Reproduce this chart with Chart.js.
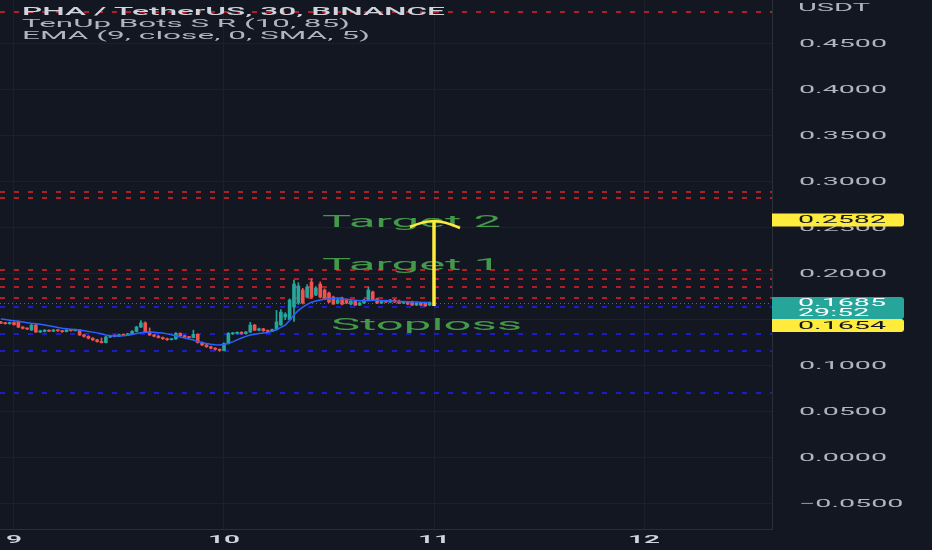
<!DOCTYPE html>
<html>
<head>
<meta charset="utf-8">
<script src="https://cdn.jsdelivr.net/npm/chart.js@4.4.1/dist/chart.umd.min.js"></script>
<style>
  html, body { margin: 0; padding: 0; background: #131722; }
  #wrap { width: 932px; height: 550px; }
</style>
</head>
<body>
<div id="wrap"><canvas id="chart" width="932" height="550"></canvas></div>
<script>
// 30 minute candles, the first one three candles before day 9 00:00
const firstCandle = 9 - 3 / 48;
const candleStep = 1 / 48;

const opens = [
  .1470, .1462, .1456, .1468, .1476, .1419, .1405, .1387, .1441, .1365,
  .1372, .1385, .1374, .1387, .1378, .1370, .1386, .1380, .1388, .1333,
  .1318, .1298, .1280, .1262, .1250, .1311, .1325, .1318, .1336, .1330,
  .1345, .1372, .1420, .1465, .1368, .1333, .1320, .1305, .1292, .1282,
  .1290, .1352, .1325, .1312, .1305, .1340, .1250, .1225, .1205, .1190,
  .1178, .1165, .1240, .1345, .1350, .1362, .1348, .1365, .1441, .1385,
  .1400, .1380, .1372, .1392, .1441, .1528, .1500, .1637, .1680, .1821,
  .1745, .1908, .1767, .1886, .1821, .1789, .1745, .1680, .1734, .1713,
  .1669, .1702, .1658, .1680, .1713, .1800, .1724, .1680, .1702, .1691,
  .1713, .1702, .1680, .1691, .1691, .1658, .1680, .1680, .1658
];
const highs = [
  .1482, .1470, .1474, .1476, .1486, .1425, .1412, .1448, .1452, .1385,
  .1392, .1390, .1394, .1392, .1384, .1398, .1392, .1396, .1392, .1340,
  .1325, .1305, .1286, .1300, .1318, .1332, .1336, .1342, .1345, .1352,
  .1380, .1428, .1490, .1476, .1410, .1340, .1328, .1312, .1300, .1296,
  .1360, .1356, .1330, .1318, .1385, .1345, .1258, .1232, .1212, .1196,
  .1182, .1248, .1360, .1362, .1368, .1370, .1372, .1470, .1448, .1408,
  .1405, .1388, .1398, .1600, .1610, .1575, .1725, .1930, .1900, .1840,
  .1880, .1941, .1860, .1910, .1835, .1800, .1755, .1720, .1745, .1725,
  .1712, .1710, .1690, .1722, .1854, .1810, .1735, .1710, .1712, .1720,
  .1720, .1712, .1698, .1700, .1700, .1690, .1688, .1690, .1692
];
const lows = [
  .1455, .1450, .1450, .1440, .1412, .1398, .1392, .1382, .1360, .1358,
  .1366, .1368, .1370, .1372, .1362, .1366, .1375, .1376, .1328, .1310,
  .1290, .1272, .1255, .1245, .1246, .1305, .1312, .1314, .1325, .1326,
  .1340, .1366, .1412, .1360, .1328, .1312, .1300, .1285, .1275, .1278,
  .1285, .1320, .1305, .1300, .1300, .1245, .1218, .1198, .1182, .1168,
  .1155, .1160, .1235, .1338, .1342, .1340, .1342, .1360, .1380, .1378,
  .1372, .1366, .1368, .1388, .1436, .1500, .1495, .1480, .1665, .1670,
  .1735, .1730, .1760, .1735, .1725, .1685, .1665, .1672, .1660, .1672,
  .1660, .1652, .1652, .1675, .1705, .1705, .1672, .1675, .1685, .1685,
  .1685, .1672, .1675, .1662, .1652, .1652, .1652, .1645, .1652
];
const closes = [
  .1462, .1456, .1468, .1445, .1419, .1405, .1398, .1441, .1365, .1378,
  .1385, .1374, .1387, .1378, .1370, .1386, .1380, .1390, .1333, .1318,
  .1298, .1280, .1262, .1250, .1311, .1325, .1318, .1336, .1330, .1345,
  .1372, .1420, .1465, .1368, .1333, .1320, .1305, .1292, .1282, .1290,
  .1352, .1325, .1312, .1305, .1340, .1250, .1225, .1205, .1190, .1178,
  .1165, .1240, .1350, .1356, .1362, .1348, .1365, .1441, .1385, .1400,
  .1380, .1372, .1392, .1475, .1582, .1560, .1713, .1886, .1865, .1680,
  .1854, .1745, .1843, .1745, .1734, .1691, .1669, .1713, .1669, .1680,
  .1702, .1658, .1680, .1713, .1821, .1713, .1680, .1702, .1691, .1713,
  .1691, .1680, .1691, .1669, .1658, .1680, .1658, .1648, .1685
];
// EMA (9, close, 0, SMA, 5)
const emaValues = [
  .1506, .1500, .1494, .1488, .1481, .1474, .1467, .1460, .1455, .1450,
  .1442, .1434, .1426, .1415, .1405, .1400, .1396, .1392, .1387, .1380,
  .1372, .1364, .1356, .1346, .1334, .1324, .1322, .1322, .1325, .1330,
  .1338, .1348, .1358, .1364, .1365, .1362, .1358, .1354, .1345, .1335,
  .1322, .1311, .1300, .1290, .1278, .1262, .1250, .1240, .1232, .1226,
  .1224, .1230, .1242, .1258, .1280, .1300, .1318, .1333, .1342, .1348,
  .1354, .1360, .1372, .1390, .1415, .1440, .1490, .1550, .1600, .1635,
  .1665, .1688, .1702, .1712, .1720, .1724, .1728, .1728, .1725, .1720,
  .1715, .1710, .1706, .1704, .1706, .1710, .1710, .1708, .1706, .1704,
  .1700, .1698, .1696, .1694, .1692, .1690, .1688, .1687, .1686
];

const dayTicks = [9, 10, 11, 12];
const priceTicks = [-0.05, 0, 0.05, 0.10, 0.15, 0.20, 0.25, 0.30, 0.35, 0.40, 0.45];
const priceLabels = ["\u22120.0500", "0.0000", "0.0500", "0.1000", "", "0.2000", "0.2500", "0.3000", "0.3500", "0.4000", "0.4500"];

// TenUp Bots S R levels
const resistanceLevels = [0.4841, 0.2886, 0.2825, 0.2038, 0.1941, 0.1854, 0.1734];
const supportLevels = [0.1637, 0.1344, 0.1159, 0.0703];

const lastPrice = 0.1685;
const countdown = "29:52";
const stopPrice = 0.1654;
const targetPrice = 0.2582;

const noteTexts = ["Target 2", "Target 1", "Stoploss"];
const noteDays = [10.467, 10.467, 10.51];
const notePrices = [0.2557, 0.2080, 0.1430];

const arrowDay = 11.0;
const arrowFrom = 0.1648;
const arrowTo = 0.2571;

const titleLines = ["PHA / TetherUS, 30, BINANCE", "TenUp Bots S R (10, 85)", "EMA (9, close, 0, SMA, 5)"];

// Colors
const UP = "#26a69a";
const DOWN = "#ef5350";
const GRID = "#1c202b";
const FONT = "Roboto, 'Noto Sans', sans-serif";

const candleDays = opens.map((_, i) => firstCandle + i * candleStep);
const candleColors = opens.map((o, i) => (closes[i] >= o ? UP : DOWN));

// text stretched sideways to a given width, like the screenshot
function wideText(ctx, text, x, y, sx, align) {
  ctx.save();
  ctx.translate(x, y);
  ctx.scale(sx, 1);
  ctx.textAlign = align || "left";
  ctx.textBaseline = "middle";
  ctx.fillText(text, 0, 0);
  ctx.restore();
}
function fitFactor(ctx, font, sample, width) {
  ctx.font = font;
  return width / ctx.measureText(sample).width;
}

const overlay = {
  id: "overlay",
  beforeDatasetsDraw(chart) {
    const { ctx, chartArea: a, scales: { x, y } } = chart;
    ctx.save();
    ctx.beginPath();
    ctx.rect(a.left, a.top, a.right - a.left, a.bottom - a.top);
    ctx.clip();

    ctx.lineWidth = 2;
    ctx.setLineDash([5, 9]);
    const levelLine = (v, color) => {
      const py = Math.round(y.getPixelForValue(v));
      ctx.strokeStyle = color;
      ctx.beginPath();
      ctx.moveTo(a.left, py);
      ctx.lineTo(a.right, py);
      ctx.stroke();
    };
    resistanceLevels.forEach((v) => levelLine(v, "rgba(215,35,40,0.8)"));
    supportLevels.forEach((v) => levelLine(v, "rgba(30,30,215,0.9)"));

    // last price line
    ctx.lineWidth = 1;
    ctx.setLineDash([1, 3]);
    ctx.strokeStyle = "rgba(120,123,134,0.8)";
    const lp = Math.round(y.getPixelForValue(lastPrice)) + 0.5;
    ctx.beginPath();
    ctx.moveTo(a.left, lp);
    ctx.lineTo(a.right, lp);
    ctx.stroke();
    ctx.restore();
  },
  afterDatasetsDraw(chart) {
    const { ctx, scales: { x, y } } = chart;

    // green notes
    const noteFont = "17px " + FONT;
    const nsx = fitFactor(ctx, noteFont, "Target 2", 179);
    ctx.fillStyle = "rgba(76,175,80,0.85)";
    noteTexts.forEach((t, i) => {
      wideText(ctx, t, x.getPixelForValue(noteDays[i]), y.getPixelForValue(notePrices[i]), nsx);
    });

    // yellow arrow
    const ax = x.getPixelForValue(arrowDay);
    const y0 = y.getPixelForValue(arrowFrom);
    const y1 = y.getPixelForValue(arrowTo);
    ctx.save();
    ctx.strokeStyle = "#ffeb3b";
    ctx.lineWidth = 3.5;
    ctx.beginPath();
    ctx.moveTo(ax, y0);
    ctx.lineTo(ax, y1 + 1);
    ctx.stroke();
    ctx.lineWidth = 2.5;
    ctx.beginPath();
    ctx.moveTo(ax - 24, y1 + 6);
    ctx.quadraticCurveTo(ax - 10, y1, ax, y1);
    ctx.quadraticCurveTo(ax + 10, y1, ax + 26, y1 + 7);
    ctx.stroke();
    ctx.restore();
  },
  afterDraw(chart) {
    const { ctx, chartArea: a, scales: { x, y } } = chart;
    ctx.save();

    // price axis labels
    const axisFont = "11px " + FONT;
    const asx = fitFactor(ctx, axisFont, "0.4500", 88);
    ctx.fillStyle = "#b2b5be";
    priceTicks.forEach((v, i) => {
      if (priceLabels[i]) wideText(ctx, priceLabels[i], a.right + 27, y.getPixelForValue(v) + 0.5, asx);
    });
    const unitFont = "10px " + FONT;
    wideText(ctx, "USDT", a.right + 26, 8.5, fitFactor(ctx, unitFont, "USDT", 72));

    // time axis labels
    const dayFont = "600 11px " + FONT;
    const dsx = fitFactor(ctx, dayFont, "10", 32);
    ctx.fillStyle = "#d1d4dc";
    dayTicks.forEach((d) => wideText(ctx, String(d), x.getPixelForValue(d), 540.5, dsx, "center"));

    // price tags
    ctx.font = axisFont;
    const tagX = a.right;
    const tagW = 132;
    const tag = (top, h, color) => {
      ctx.fillStyle = color;
      ctx.beginPath();
      ctx.roundRect(tagX, top, tagW, h, [0, 3, 3, 0]);
      ctx.fill();
    };
    const ty = y.getPixelForValue(targetPrice);
    tag(ty - 6.5, 13, "#ffeb3b");
    ctx.fillStyle = "#131722";
    wideText(ctx, "0.2582", a.right + 26, ty + 0.5, asx);

    const ly = y.getPixelForValue(lastPrice);
    const tealTop = ly - 5.5;
    tag(tealTop, 22, UP);
    ctx.fillStyle = "#ffffff";
    wideText(ctx, "0.1685", a.right + 26, ly + 1, asx);
    wideText(ctx, countdown, a.right + 26, ly + 11, asx);

    const sTop = Math.max(y.getPixelForValue(stopPrice) - 6.5, tealTop + 22);
    tag(sTop, 13, "#ffeb3b");
    ctx.fillStyle = "#131722";
    wideText(ctx, "0.1654", a.right + 26, sTop + 7, asx);

    // legend lines
    const t1 = "500 10px " + FONT;
    const t2 = "10px " + FONT;
    ctx.fillStyle = "#d1d4dc";
    wideText(ctx, titleLines[0], 22, 12.5, fitFactor(ctx, t1, titleLines[0], 423));
    ctx.fillStyle = "#b2b5be";
    wideText(ctx, titleLines[1], 22, 24.5, fitFactor(ctx, t2, titleLines[1], 328));
    wideText(ctx, titleLines[2], 22, 36.5, fitFactor(ctx, t2, titleLines[2], 348));
    ctx.restore();
  }
};

const background = {
  id: "background",
  beforeDraw(chart) {
    const ctx = chart.ctx;
    ctx.save();
    ctx.fillStyle = "#131722";
    ctx.fillRect(0, 0, chart.width, chart.height);
    ctx.restore();
  }
};

new Chart(document.getElementById("chart"), {
  type: "bar",
  data: {
    datasets: [
      {
        type: "line",
        label: "EMA",
        data: emaValues.map((v, i) => ({ x: candleDays[i], y: v })),
        borderColor: "#2962ff",
        borderWidth: 1.5,
        pointRadius: 0,
        tension: 0,
        order: 0,
      },
      {
        label: "Body",
        data: opens.map((o, i) => ({ x: candleDays[i], y: [o, closes[i]] })),
        backgroundColor: candleColors,
        barThickness: 3,
        minBarLength: 1,
        grouped: false,
        order: 1,
      },
      {
        label: "Wick",
        data: lows.map((l, i) => ({ x: candleDays[i], y: [l, highs[i]] })),
        backgroundColor: candleColors,
        barThickness: 1,
        grouped: false,
        order: 2,
      },
    ],
  },
  options: {
    responsive: false,
    animation: false,
    layout: { padding: 0 },
    plugins: { legend: { display: false }, tooltip: { enabled: false } },
    scales: {
      x: {
        type: "linear",
        min: 9 - 14 / 210,
        max: 9 + 758 / 210,
        offset: false,
        grid: { color: GRID, drawTicks: false, offset: false },
        border: { color: "#2a2e39" },
        ticks: { display: false },
        afterBuildTicks: (s) => { s.ticks = dayTicks.map((v) => ({ value: v })); },
        afterFit: (s) => { s.height = 21; },
      },
      y: {
        type: "linear",
        position: "right",
        min: -0.0774,
        max: 0.4971,
        grid: { color: GRID, drawTicks: false },
        border: { color: "#2a2e39" },
        ticks: { display: false },
        afterBuildTicks: (s) => { s.ticks = priceTicks.map((v) => ({ value: v })); },
        afterFit: (s) => { s.width = 160; },
      },
    },
  },
  plugins: [background, overlay],
});
</script>
</body>
</html>
